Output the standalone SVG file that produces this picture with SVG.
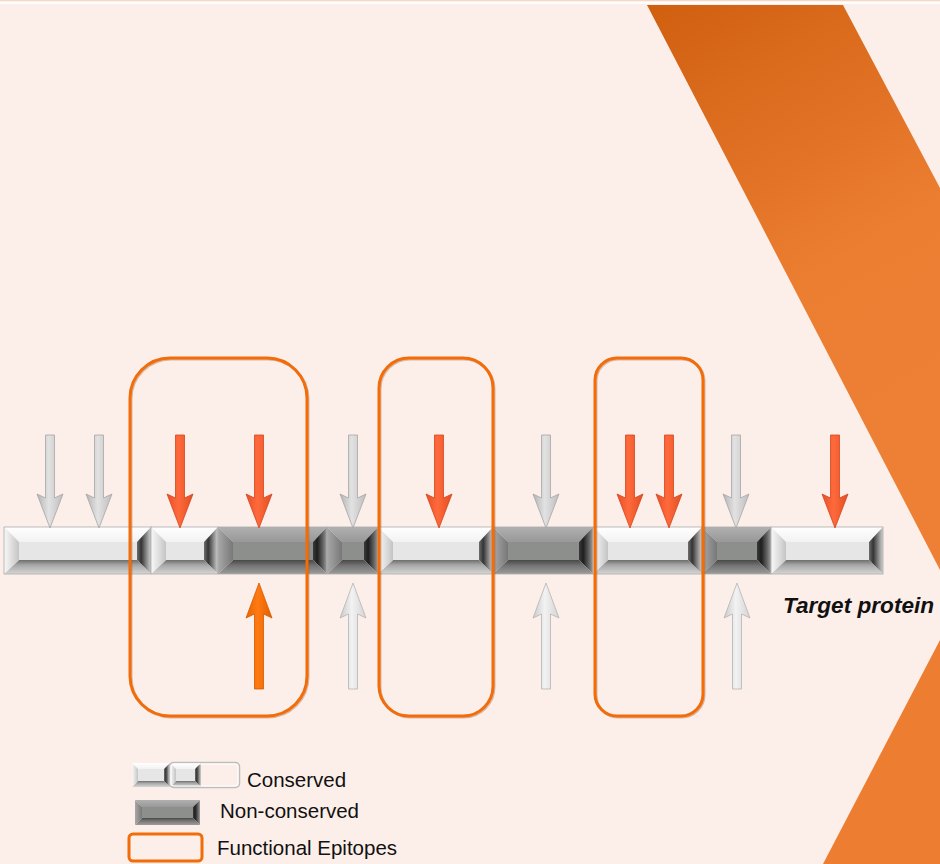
<svg xmlns="http://www.w3.org/2000/svg" width="940" height="864" viewBox="0 0 940 864">
<defs>
<linearGradient id="band" x1="0" y1="0" x2="0.3" y2="1"><stop offset="0" stop-color="#D05F10"/><stop offset="0.6" stop-color="#EC7E32"/><stop offset="1" stop-color="#EE8036"/></linearGradient>
<linearGradient id="lTop" x1="0" y1="0" x2="0" y2="1"><stop offset="0" stop-color="#FFFFFF"/><stop offset="1" stop-color="#F2F2F2"/></linearGradient>
<linearGradient id="lLeft" x1="0" y1="0" x2="1" y2="0"><stop offset="0" stop-color="#F8F8F8"/><stop offset="0.6" stop-color="#DADADA"/><stop offset="1" stop-color="#C4C4C4"/></linearGradient>
<linearGradient id="lRight" x1="0" y1="0" x2="1" y2="0"><stop offset="0" stop-color="#6E6E6E"/><stop offset="0.3" stop-color="#343434"/><stop offset="0.75" stop-color="#9A9A9A"/><stop offset="1" stop-color="#D0D0D0"/></linearGradient>
<linearGradient id="lBot" x1="0" y1="0" x2="0" y2="1"><stop offset="0" stop-color="#6E6E6E"/><stop offset="0.35" stop-color="#A6A6A6"/><stop offset="1" stop-color="#D6D6D6"/></linearGradient>
<linearGradient id="dTop" x1="0" y1="0" x2="0" y2="1"><stop offset="0" stop-color="#B0B0B0"/><stop offset="1" stop-color="#989898"/></linearGradient>
<linearGradient id="dLeft" x1="0" y1="0" x2="1" y2="0"><stop offset="0" stop-color="#A8A8A8"/><stop offset="1" stop-color="#787878"/></linearGradient>
<linearGradient id="dRight" x1="0" y1="0" x2="1" y2="0"><stop offset="0" stop-color="#3A3A3A"/><stop offset="0.3" stop-color="#1E1E1E"/><stop offset="0.75" stop-color="#6A6A6A"/><stop offset="1" stop-color="#A0A0A0"/></linearGradient>
<linearGradient id="dBot" x1="0" y1="0" x2="0" y2="1"><stop offset="0" stop-color="#484848"/><stop offset="0.4" stop-color="#747474"/><stop offset="1" stop-color="#9C9C9C"/></linearGradient>
<linearGradient id="gArr" x1="0" y1="0" x2="1" y2="0"><stop offset="0" stop-color="#B4B4B4"/><stop offset="0.45" stop-color="#E2E2E2"/><stop offset="1" stop-color="#BEBEBE"/></linearGradient>
<linearGradient id="wArr" x1="0" y1="0" x2="1" y2="0"><stop offset="0" stop-color="#CACACA"/><stop offset="0.45" stop-color="#F2F2F2"/><stop offset="1" stop-color="#D4D4D4"/></linearGradient>
<linearGradient id="rArr" x1="0" y1="0" x2="1" y2="0"><stop offset="0" stop-color="#E9502A"/><stop offset="0.45" stop-color="#FF6A3C"/><stop offset="1" stop-color="#E24E22"/></linearGradient>
<linearGradient id="oArr" x1="0" y1="0" x2="1" y2="0"><stop offset="0" stop-color="#E86400"/><stop offset="0.45" stop-color="#FF7A12"/><stop offset="1" stop-color="#E46000"/></linearGradient>
<polygon id="down" points="-4.5,0 4.5,0 4.5,63 13,59 0,93 -13,59 -4.5,63"/>
<polygon id="up" points="0,0 13,35 4.5,31 4.5,106 -4.5,106 -4.5,31 -13,35"/>
</defs>
<style>
.bg{fill:#FCEFEA}
.lt .t{fill:url(#lTop)} .lt .l{fill:url(#lLeft)} .lt .r{fill:url(#lRight)} .lt .b{fill:url(#lBot)} .lt .c{fill:#E6E6E6}
.dk .t{fill:url(#dTop)} .dk .l{fill:url(#dLeft)} .dk .r{fill:url(#dRight)} .dk .b{fill:url(#dBot)} .dk .c{fill:#8D8F8D}
.edge{fill:none;stroke:#ACACAC;stroke-width:0.8}
.epi{fill:none;stroke:#F26C0A;stroke-width:3}
.epish{fill:none;stroke:#9A4A10;stroke-width:3;opacity:0.35}
.ag{fill:url(#gArr);stroke:#A6A6A6;stroke-width:0.8}
.aw{fill:url(#wArr);stroke:#B4B4B4;stroke-width:0.8}
.ar{fill:url(#rArr);stroke:#D2461C;stroke-width:0.8}
.ao{fill:url(#oArr);stroke:#D65A00;stroke-width:0.8}
.lbl{font-family:"Liberation Sans",Arial,sans-serif;font-size:20.5px;fill:#111}
.tp{font-family:"Liberation Sans",Arial,sans-serif;font-size:22.6px;font-weight:bold;font-style:italic;fill:#111}
</style>
<rect class="bg" x="0" y="0" width="940" height="864"/>
<rect x="0" y="0" width="940" height="1.5" fill="#F8D8C2"/>
<rect x="0" y="1.5" width="940" height="2.5" fill="#FFFFFF"/>
<g id="decor">
<polygon points="647,5 843,5 940,188 940,570" fill="url(#band)"/>
<polygon points="940,640 823,864 940,864" fill="#ED7D31"/>
</g>
<g id="protein">
<g id="s1" class="lt"><polygon class="t" points="4,527 151,527 137,542 19,542"/><polygon class="r" points="151,527 151,574 137,560 137,542"/><polygon class="b" points="4,574 151,574 137,560 19,560"/><polygon class="l" points="4,527 19,542 19,560 4,574"/><rect class="c" x="19" y="542" width="118" height="18"/><rect class="edge" x="4" y="527" width="147" height="47"/></g>
<g id="s2" class="lt"><polygon class="t" points="151,527 218,527 204,542 166,542"/><polygon class="r" points="218,527 218,574 204,560 204,542"/><polygon class="b" points="151,574 218,574 204,560 166,560"/><polygon class="l" points="151,527 166,542 166,560 151,574"/><rect class="c" x="166" y="542" width="38" height="18"/><rect class="edge" x="151" y="527" width="67" height="47"/></g>
<g id="s3" class="dk"><polygon class="t" points="218,527 327,527 313,542 233,542"/><polygon class="r" points="327,527 327,574 313,560 313,542"/><polygon class="b" points="218,574 327,574 313,560 233,560"/><polygon class="l" points="218,527 233,542 233,560 218,574"/><rect class="c" x="233" y="542" width="80" height="18"/><rect class="edge" x="218" y="527" width="109" height="47"/></g>
<g id="s4" class="dk"><polygon class="t" points="327,527 378,527 364,542 342,542"/><polygon class="r" points="378,527 378,574 364,560 364,542"/><polygon class="b" points="327,574 378,574 364,560 342,560"/><polygon class="l" points="327,527 342,542 342,560 327,574"/><rect class="c" x="342" y="542" width="22" height="18"/><rect class="edge" x="327" y="527" width="51" height="47"/></g>
<g id="s5" class="lt"><polygon class="t" points="378,527 493,527 479,542 393,542"/><polygon class="r" points="493,527 493,574 479,560 479,542"/><polygon class="b" points="378,574 493,574 479,560 393,560"/><polygon class="l" points="378,527 393,542 393,560 378,574"/><rect class="c" x="393" y="542" width="86" height="18"/><rect class="edge" x="378" y="527" width="115" height="47"/></g>
<g id="s6" class="dk"><polygon class="t" points="493,527 593,527 579,542 508,542"/><polygon class="r" points="593,527 593,574 579,560 579,542"/><polygon class="b" points="493,574 593,574 579,560 508,560"/><polygon class="l" points="493,527 508,542 508,560 493,574"/><rect class="c" x="508" y="542" width="71" height="18"/><rect class="edge" x="493" y="527" width="100" height="47"/></g>
<g id="s7" class="lt"><polygon class="t" points="593,527 702,527 688,542 608,542"/><polygon class="r" points="702,527 702,574 688,560 688,542"/><polygon class="b" points="593,574 702,574 688,560 608,560"/><polygon class="l" points="593,527 608,542 608,560 593,574"/><rect class="c" x="608" y="542" width="80" height="18"/><rect class="edge" x="593" y="527" width="109" height="47"/></g>
<g id="s8" class="dk"><polygon class="t" points="702,527 771,527 757,542 717,542"/><polygon class="r" points="771,527 771,574 757,560 757,542"/><polygon class="b" points="702,574 771,574 757,560 717,560"/><polygon class="l" points="702,527 717,542 717,560 702,574"/><rect class="c" x="717" y="542" width="40" height="18"/><rect class="edge" x="702" y="527" width="69" height="47"/></g>
<g id="s9" class="lt"><polygon class="t" points="771,527 883,527 869,542 786,542"/><polygon class="r" points="883,527 883,574 869,560 869,542"/><polygon class="b" points="771,574 883,574 869,560 786,560"/><polygon class="l" points="771,527 786,542 786,560 771,574"/><rect class="c" x="786" y="542" width="83" height="18"/><rect class="edge" x="771" y="527" width="112" height="47"/></g>
</g>
<g id="epitope1"><rect class="epish" x="131" y="359" width="177" height="358" rx="40"/><rect class="epi" x="130" y="358" width="177" height="358" rx="40"/></g>
<g id="epitope2"><rect class="epish" x="380" y="359" width="114" height="358" rx="30"/><rect class="epi" x="379" y="358" width="114" height="358" rx="30"/></g>
<g id="epitope3"><rect class="epish" x="596" y="359" width="108" height="358" rx="22"/><rect class="epi" x="595" y="358" width="108" height="358" rx="22"/></g>
<g id="connectors">
<use href="#down" class="ag" x="50" y="435"/>
<use href="#down" class="ag" x="99" y="435"/>
<use href="#down" class="ar" x="180" y="435"/>
<use href="#down" class="ar" x="259" y="435"/>
<use href="#down" class="ag" x="353" y="435"/>
<use href="#down" class="ar" x="439" y="435"/>
<use href="#down" class="ag" x="546" y="435"/>
<use href="#down" class="ar" x="630" y="435"/>
<use href="#down" class="ar" x="669" y="435"/>
<use href="#down" class="ag" x="736" y="435"/>
<use href="#down" class="ar" x="835" y="435"/>
<use href="#up" class="ao" x="259" y="583"/>
<use href="#up" class="aw" x="353" y="583"/>
<use href="#up" class="aw" x="546" y="583"/>
<use href="#up" class="aw" x="737" y="583"/>
</g>
<g id="label-target"><text class="tp" x="783" y="613">Target protein</text></g>
<g id="legend">
<g id="legend-conserved">
<g class="lt"><polygon class="t" points="132,763 170,763 164,769 138,769"/><polygon class="r" points="170,763 170,787 164,781 164,769"/><polygon class="b" points="132,787 170,787 164,781 138,781"/><polygon class="l" points="132,763 138,769 138,781 132,787"/><rect class="c" x="138" y="769" width="26" height="12"/></g>
<g class="lt"><polygon class="t" points="170,763 201,763 195,769 176,769"/><polygon class="r" points="201,763 201,787 195,781 195,769"/><polygon class="b" points="170,787 201,787 195,781 176,781"/><polygon class="l" points="170,763 176,769 176,781 170,787"/><rect class="c" x="176" y="769" width="19" height="12"/></g>
<rect x="169.5" y="762.5" width="70" height="25" rx="4" fill="none" stroke="#BDBDBD" stroke-width="1.5"/>
<rect x="171" y="764" width="67" height="22" rx="3" fill="none" stroke="#FFFFFF" stroke-width="1"/>
<text class="lbl" x="247" y="787">Conserved</text>
</g>
<g id="legend-nonconserved">
<g class="dk"><polygon class="t" points="135,800 200,800 193,807 142,807"/><polygon class="r" points="200,800 200,825 193,818 193,807"/><polygon class="b" points="135,825 200,825 193,818 142,818"/><polygon class="l" points="135,800 142,807 142,818 135,825"/><rect class="c" x="142" y="807" width="51" height="11"/></g>
<text class="lbl" x="220" y="818">Non-conserved</text>
</g>
<g id="legend-epitope">
<rect class="epi" x="129" y="834" width="73" height="27" rx="4"/>
<text class="lbl" x="217" y="855">Functional Epitopes</text>
</g>
</g>
</svg>
